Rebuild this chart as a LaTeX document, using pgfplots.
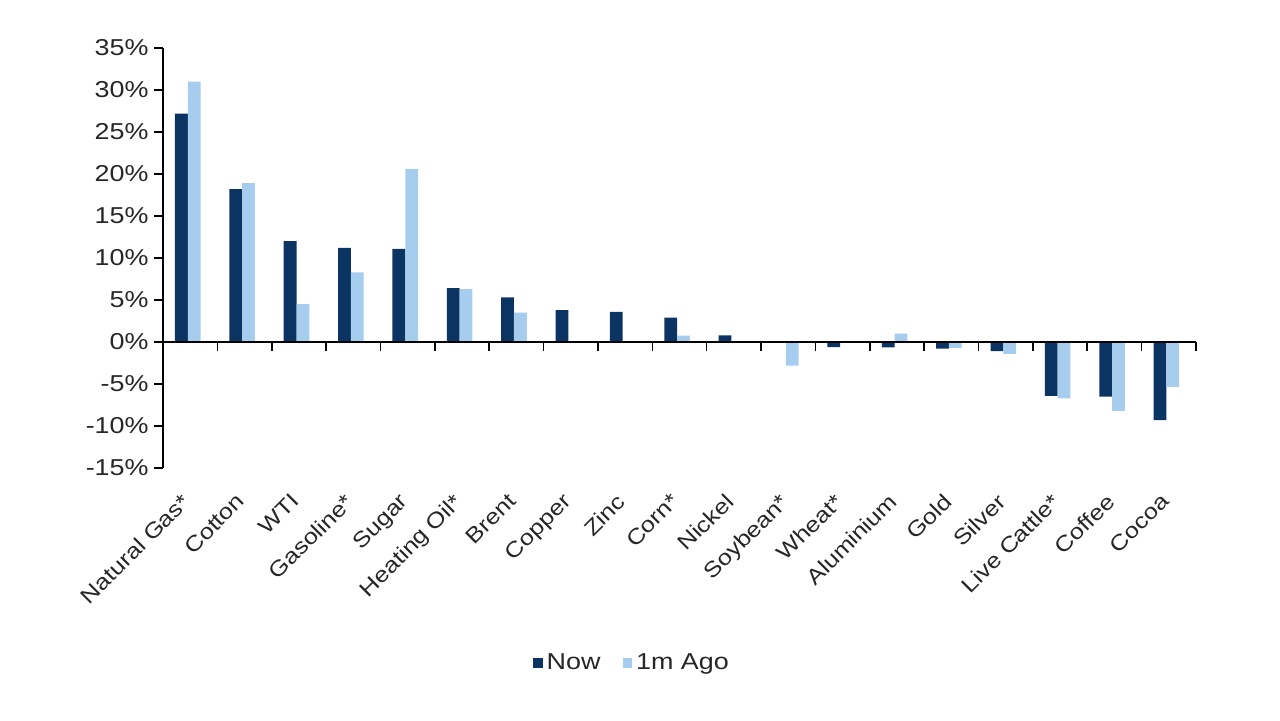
\documentclass[border=0pt]{standalone}
\usepackage{fontspec}
\setmainfont{Liberation Sans}[FakeStretch=1.17]
\usepackage{pgfplots}
\pgfplotsset{compat=1.18}
\definecolor{nowc}{HTML}{0C3462}
\definecolor{agoc}{HTML}{A7CDEE}
\begin{document}
\begin{tikzpicture}
\useasboundingbox (0,0) rectangle (640pt,360pt);
\begin{axis}[
  at={(81.5pt,126pt)}, anchor=south west,
  scale only axis, width=516.5pt, height=210pt,
  xmin=-0.5, xmax=18.5, ymin=-15, ymax=35,
  axis y line*=left, axis x line*=bottom,
  x axis line style={draw=none},
  y axis line style={line width=0.8pt},
  xtick={0,...,18},
  xtick style={draw=none},
  xticklabels={Natural Gas*,Cotton,WTI,Gasoline*,Sugar,Heating Oil*,Brent,Copper,Zinc,Corn*,Nickel,Soybean*,Wheat*,Aluminium,Gold,Silver,Live Cattle*,Coffee,Cocoa},
  tick label style={font=\fontsize{11.5}{13}\selectfont, text=black!85},
  xticklabel style={xshift=-4.7pt, yshift=-7.3pt, rotate=45, anchor=north east, inner sep=0pt, font=\fontsize{10.8}{12}\selectfont},
  ytick={-15,-10,...,35},
  yticklabels={-15\%,-10\%,-5\%,0\%,5\%,10\%,15\%,20\%,25\%,30\%,35\%},
  ytick style={line width=0.8pt, black},
  tick align=outside, major tick length=4.5pt,
  yticklabel style={inner sep=0pt, xshift=-2.5pt},
  ybar=0pt, bar width=6.4pt,
  clip=false,
  legend style={at={(0.455,-0.464)}, anchor=center, draw=none, legend columns=2,
    font=\fontsize{11.5}{13}\selectfont, text=black!85,
    /tikz/every even column/.append style={column sep=9pt}},
  legend image code/.code={\fill[#1] (0pt,-2.4pt) rectangle (4.8pt,2.4pt);},
]
\addplot[fill=nowc, draw=none, bar shift=-4.4pt] coordinates {
(0,27.2) (1,18.2) (2,12.0) (3,11.2) (4,11.1) (5,6.4) (6,5.3) (7,3.8) (8,3.6) (9,2.9)
(10,0.8) (11,0.0) (12,-0.6) (13,-0.65) (14,-0.8) (15,-1.1) (16,-6.4) (17,-6.5) (18,-9.3)};
\addplot[fill=agoc, draw=none, bar shift=2.0pt] coordinates {
(0,31.0) (1,18.9) (2,4.5) (3,8.3) (4,20.6) (5,6.3) (6,3.5) (7,0.1) (8,-0.1) (9,0.75)
(10,0.1) (11,-2.8) (12,-0.1) (13,1.0) (14,-0.7) (15,-1.4) (16,-6.7) (17,-8.2) (18,-5.35)};
\legend{Now,1m Ago}
\draw[line width=0.8pt] ([xshift=-4.5pt]axis cs:-0.5,0) -- (axis cs:18.5,0);
\pgfplotsinvokeforeach{0.5,1.5,...,18.5}{\draw[line width=0.8pt] (axis cs:#1,0) -- ++(0pt,-4.5pt);}
\end{axis}
\end{tikzpicture}
\end{document}
